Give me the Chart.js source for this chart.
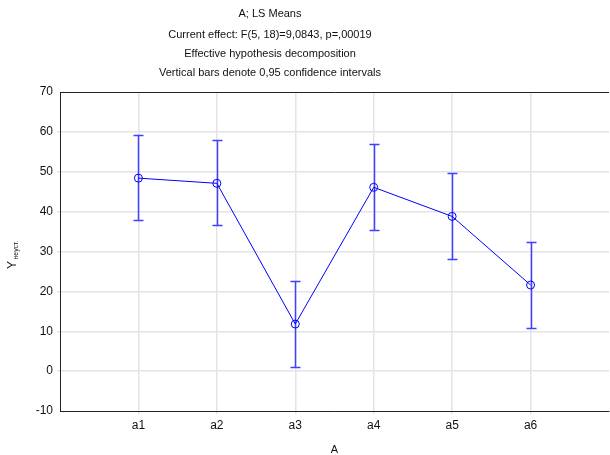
<!DOCTYPE html>
<html>
<head>
<meta charset="utf-8">
<script src="https://cdn.jsdelivr.net/npm/chart.js@4/dist/chart.umd.min.js"></script>
<style>
    html, body { margin: 0; padding: 0; background: #fff; }
    #chart { display: block; }
</style>
</head>
<body>
<canvas id="chart" width="610" height="455"></canvas>
<script>
// Dados
const categories = ['a1', 'a2', 'a3', 'a4', 'a5', 'a6'];
const means = [48.4, 47.1, 11.8, 46.1, 38.8, 21.6];
const lower = [37.8, 36.6, 1.0, 35.3, 28.1, 10.8];
const upper = [59.3, 58.0, 22.5, 56.9, 49.6, 32.3];
const yTicks = [-10, 0, 10, 20, 30, 40, 50, 60, 70];
const titleLines = [
    'A; LS Means',
    'Current effect: F(5, 18)=9,0843, p=,00019',
    'Effective hypothesis decomposition',
    'Vertical bars denote 0,95 confidence intervals'
];

const FONT = "'Liberation Sans', Arial, sans-serif";

// Título, moldura superior, rótulo Y e barras de erro
const extras = {
    id: 'extras',
    beforeDatasetsDraw(chart) {
        const { ctx, scales } = chart;
        const x = scales.x, y = scales.y;
        ctx.save();
        ctx.strokeStyle = '#4040ff';
        ctx.lineWidth = 1.5;
        categories.forEach((c, i) => {
            const px = Math.round(x.getPixelForValue(i + 1)) + 0.5;
            const top = Math.round(y.getPixelForValue(upper[i])) + 0.5;
            const bot = Math.round(y.getPixelForValue(lower[i])) + 0.5;
            ctx.beginPath();
            ctx.moveTo(px, top);
            ctx.lineTo(px, bot);
            ctx.moveTo(px - 5, top);
            ctx.lineTo(px + 5, top);
            ctx.moveTo(px - 5, bot);
            ctx.lineTo(px + 5, bot);
            ctx.stroke();
        });
        ctx.restore();
    },
    afterDraw(chart) {
        const { ctx, chartArea } = chart;
        ctx.save();
        // linha superior
        ctx.strokeStyle = '#222';
        ctx.lineWidth = 1;
        ctx.beginPath();
        ctx.moveTo(chartArea.left, chartArea.top + 0.5);
        ctx.lineTo(chartArea.right, chartArea.top + 0.5);
        ctx.stroke();

        // título
        ctx.fillStyle = '#111';
        ctx.font = '11px ' + FONT;
        ctx.textAlign = 'center';
        ctx.textBaseline = 'middle';
        const ys = [14, 35, 54, 73];
        titleLines.forEach((t, i) => ctx.fillText(t, 270, ys[i]));

        // rótulo do eixo X
        ctx.fillText('A', (chartArea.left + chartArea.right) / 2, 450);

        // rótulo do eixo Y com subscrito
        ctx.translate(16, 269);
        ctx.rotate(-Math.PI / 2);
        ctx.textAlign = 'left';
        ctx.textBaseline = 'alphabetic';
        ctx.font = '12px ' + FONT;
        ctx.fillText('Y', 0, 0);
        const w = ctx.measureText('Y').width;
        ctx.font = '7px ' + FONT;
        ctx.fillText('неуст.', w + 1.5, 2);
        ctx.restore();
    }
};

new Chart(document.getElementById('chart'), {
    type: 'line',
    data: {
        datasets: [{
            data: means.map((v, i) => ({ x: i + 1, y: v })),
            borderColor: '#0000ff',
            borderWidth: 1,
            pointRadius: 4,
            pointBorderColor: '#0000ff',
            pointBorderWidth: 1,
            pointBackgroundColor: 'rgba(0,0,0,0)',
            tension: 0
        }]
    },
    options: {
        responsive: false,
        animation: false,
        layout: { autoPadding: false, padding: { top: 92, left: 0, right: 1, bottom: 0 } },
        plugins: {
            legend: { display: false },
            tooltip: { enabled: false },
            title: { display: false }
        },
        scales: {
            x: {
                type: 'linear',
                min: 0,
                max: 7,
                afterFit: s => { s.height = 44; s.paddingRight = 0; s.paddingLeft = 0; },
                afterBuildTicks: s => { s.ticks = [0, 1, 2, 3, 4, 5, 6, 7].map(v => ({ value: v })); },
                ticks: {
                    callback: v => categories[v - 1] || '',
                    color: '#111',
                    font: { family: FONT, size: 12 },
                    maxRotation: 0,
                    padding: 4
                },
                grid: {
                    color: c => (c.tick && c.tick.value >= 1 && c.tick.value <= 6) ? '#e4e4e4' : 'rgba(0,0,0,0)',
                    lineWidth: 1.5,
                    tickLength: 3
                },
                border: { color: '#222', width: 1 }
            },
            y: {
                min: -10,
                max: 70,
                afterFit: s => { s.width = 60; s.paddingTop = 0; s.paddingBottom = 0; },
                afterBuildTicks: s => { s.ticks = yTicks.map(v => ({ value: v })); },
                ticks: {
                    color: '#111',
                    font: { family: FONT, size: 12 },
                    padding: 4
                },
                grid: {
                    color: c => (c.tick && c.tick.value > -10 && c.tick.value < 70) ? '#e4e4e4' : 'rgba(0,0,0,0)',
                    lineWidth: 1.5,
                    tickLength: 3
                },
                border: { color: '#222', width: 1 }
            }
        }
    },
    plugins: [extras]
});
</script>
</body>
</html>
